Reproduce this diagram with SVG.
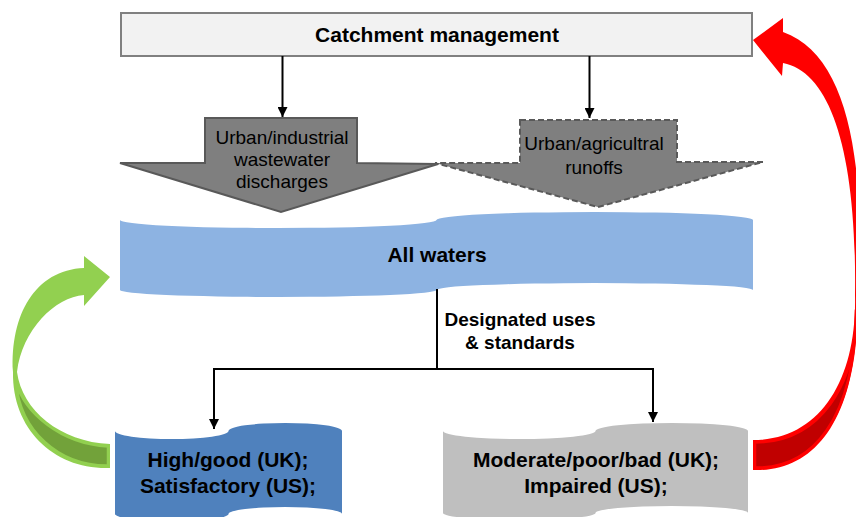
<svg xmlns="http://www.w3.org/2000/svg" width="856" height="517" viewBox="0 0 856 517">
  <style>
    .bold { font-family: "Liberation Sans", Arial, sans-serif; font-weight: bold; fill: #000; text-anchor: middle; }
    .reg { font-family: "Liberation Sans", Arial, sans-serif; fill: #000; text-anchor: middle; font-size: 19px; }
    .link { fill: none; stroke: #000; stroke-width: 2; }
    .flow { fill: #7f7f7f; stroke: #595959; stroke-width: 2; stroke-linejoin: miter; }
  </style>
  <defs>
    <marker id="tip" viewBox="0 0 10 10" refX="10" refY="5" markerWidth="10" markerHeight="10" markerUnits="userSpaceOnUse" orient="auto">
      <path d="M0,0 L10,5 L0,10 Z" fill="#000"/>
    </marker>
  </defs>

  <rect width="856" height="517" fill="#fff"/>

  <!-- top box -->
  <g id="catchment">
    <rect x="121" y="13" width="631" height="43" fill="#f2f2f2" stroke="#808080" stroke-width="2"/>
    <text class="bold" x="437" y="42" font-size="21">Catchment management</text>
  </g>

  <!-- pollution sources -->
  <g id="discharges">
    <path class="flow" d="M205,118 L357,118 L357,163 L438,164 L281,212 L120,163 L205,163 Z"/>
    <text class="reg" x="282" y="144">Urban/industrial</text>
    <text class="reg" x="282" y="166">wastewater</text>
    <text class="reg" x="282" y="188">discharges</text>
  </g>
  <g id="runoffs">
    <path class="flow" d="M520,120 L677,120 L677,162 L763,162 L598,207 L435,163 L520,163 Z" stroke-dasharray="6,3" stroke-width="2.5"/>
    <text class="reg" x="594" y="150">Urban/agricultral</text>
    <text class="reg" x="594" y="174">runoffs</text>
  </g>

  <!-- water body -->
  <g id="all-waters">
    <path d="M120,220 A158.25,8 0 0 0 436.5,220 A158.25,8 0 0 1 753,220 L753,290 A158.25,7 0 0 0 436.5,290 A158.25,7 0 0 1 120,290 Z" fill="#8db3e2"/>
    <text class="bold" x="437" y="262" font-size="21">All waters</text>
  </g>

  <!-- classification outcomes -->
  <g id="good-status">
    <path d="M115,431 A56.75,8 0 0 0 228.5,431 A56.75,8 0 0 1 342,431 L342,514 A56.75,7 0 0 0 228.5,514 A56.75,7 0 0 1 115,514 Z" fill="#4f81bd"/>
    <text class="bold" x="228" y="467" font-size="21">High/good (UK);</text>
    <text class="bold" x="228" y="493" font-size="21">Satisfactory (US);</text>
  </g>
  <g id="impaired-status">
    <path d="M443,431 A76.25,8 0 0 0 595.5,431 A76.25,8 0 0 1 748,431 L748,513 A76.25,7 0 0 0 595.5,513 A76.25,7 0 0 1 443,513 Z" fill="#bfbfbf"/>
    <text class="bold" x="596" y="467" font-size="21">Moderate/poor/bad (UK);</text>
    <text class="bold" x="596" y="493" font-size="21">Impaired (US);</text>
  </g>

  <!-- feedback arrows -->
  <g id="feedback-good">
    <path d="M110,468 C55,470 12,430 13,372 C10,315 35,270 84,268 L84,256 L110,277 L84,306 L84,295 C55,297 22,330 17,372 C22,410 60,442 110,444 Z" fill="#92d050"/>
    <path d="M108,465.5 C58,466 20,430 16,382 C24,412 60,444 108,446.5 Z" fill="#72a23a" stroke="#92d050" stroke-width="2.5" stroke-linejoin="round"/>
  </g>
  <g id="feedback-impaired">
    <path d="M753,470 C815,472 858,420 858,300 C866,160 848,55 783,32 L783,18 L753,40 L782,76 L783,63 C830,72 857,150 855,295 C857,380 820,440 753,440 Z" fill="#ff0000"/>
    <path d="M755,467.5 C812,469 855,420 856,310 C857,385 820,442 755,442.5 Z" fill="#c00000" stroke="#ff0000" stroke-width="2.5" stroke-linejoin="round"/>
  </g>

  <!-- connectors -->
  <g id="connectors">
    <line class="link" x1="282.5" y1="56" x2="282.5" y2="117" marker-end="url(#tip)"/>
    <line class="link" x1="589.5" y1="56" x2="589.5" y2="118" marker-end="url(#tip)"/>
    <polyline class="link" points="437,289 437,369"/>
    <polyline class="link" points="214,429 214,369 653,369 653,422" marker-end="url(#tip)"/>
    <line class="link" x1="214" y1="372" x2="214" y2="429" marker-end="url(#tip)"/>
    <text class="bold" x="520" y="326" font-size="19">Designated uses</text>
    <text class="bold" x="520" y="349" font-size="19">&amp; standards</text>
  </g>
</svg>
